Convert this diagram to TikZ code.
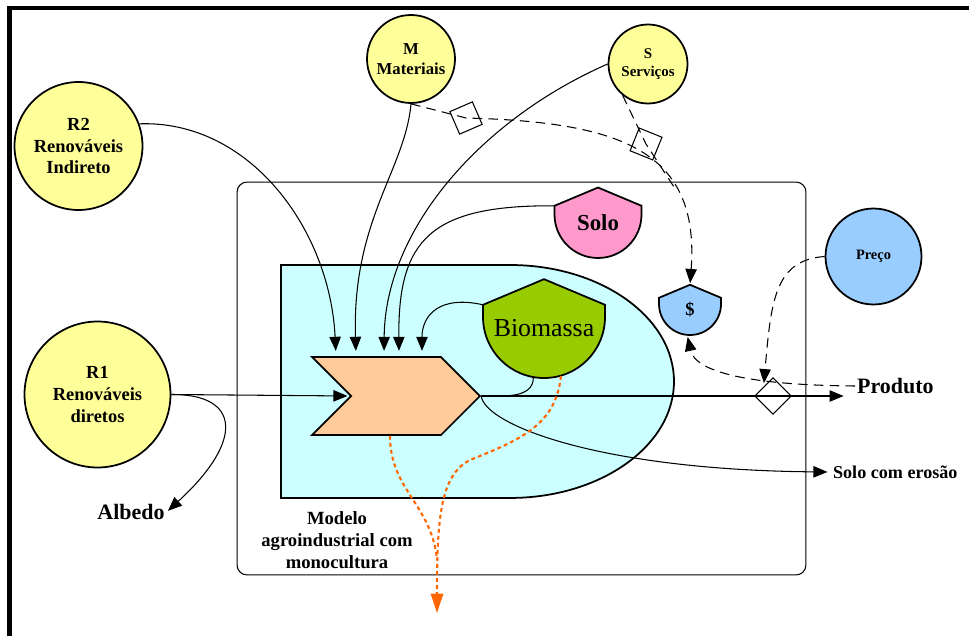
\documentclass[tikz,border=0pt]{standalone}
\usepackage{fontspec}
\setmainfont{Liberation Serif}
\usetikzlibrary{arrows.meta,positioning,shapes.symbols}
\usepackage{xcolor}

\definecolor{fonte}{HTML}{FFFF99}
\definecolor{ciano}{HTML}{CCFFFF}
\definecolor{processo}{HTML}{FFCC99}
\definecolor{verde}{HTML}{99CC00}
\definecolor{rosa}{HTML}{FF99CC}
\definecolor{azul}{HTML}{99CCFF}
\definecolor{laranja}{HTML}{FF6600}

\newcommand{\fsz}[2]{\fontsize{#1}{#2}\selectfont}
% storage tank: name, x, y, radius, colour, text
\newcommand{\storage}[6]{%
  \filldraw[mytank, fill=#5] ({#2-#4},{#3}) -- ({#2-#4},{#3+0.2*#4}) -- ({#2},{#3+0.62*#4})
    -- ({#2+#4},{#3+0.2*#4}) -- ({#2+#4},{#3}) arc[start angle=0, end angle=-180, radius={#4*0.02cm}] -- cycle;
  \node[circle, inner sep=0pt, minimum size={#4*0.04cm}] (#1) at (#2,#3) {};
  \coordinate (#1-l) at ({#2-#4},{#3+0.2*#4});
  \coordinate (#1-top) at ({#2},{#3+0.62*#4});
  \node[inner sep=0pt] (#1-txt) at ({#2},{#3-0.18*#4}) {#6};
}

\begin{document}
\begin{tikzpicture}[x=0.02cm, y=0.02cm]
\tikzset{
    mysource/.style={circle, draw=black, fill=fonte, line width=1pt, inner sep=0pt, align=center},
    mytank/.style={draw=black, line width=1pt},
    myproc/.style={signal, signal to=east, signal from=west, signal pointer angle=90, draw=black, fill=processo, line width=1pt, minimum width=3.36cm, minimum height=1.56cm, inner sep=0pt},
    mytrade/.style={rectangle, draw=black, line width=0.6pt, minimum size=0.49cm, inner sep=0pt},
    myline/.style={line width=0.6pt},
    myarrow/.style={myline, -{Triangle[width=6.5pt,length=8pt]}, shorten >=1pt},
    mydash/.style={myline, dash pattern=on 5.5pt off 3.5pt},
    myorange/.style={draw=laranja, line width=1.2pt, dash pattern=on 2.2pt off 1.8pt},
    mylabel/.style={font=\bfseries\fsz{12.5}{14}, inner sep=1pt}
}
\useasboundingbox (0,0) rectangle (969,-635);
\draw[line width=2.6pt] (9.5,-640) -- (9.5,-8) -- (969,-8);

\node[draw, rounded corners=0.2cm, line width=0.6pt, minimum width=11.38cm, minimum height=7.86cm] (sistema) at (521.5,-378.5) {};
\filldraw[draw=black, fill=ciano, line width=1pt] (281,-265) -- (510,-265)
    arc[start angle=90, end angle=-90, x radius=3.28cm, y radius=2.33cm] -- (281,-498) -- cycle;

\storage{solo}{598}{-214.5}{43.5}{rosa}{\bfseries\fsz{13}{15}Solo}
\storage{bio}{544}{-317}{61}{verde}{\fsz{14.7}{17}Biomassa}
\storage{dinheiro}{690}{-304}{31}{azul}{\bfseries\fsz{10.5}{12}\$}
\node[myproc] (modelo) at (396,-396) {};

\node[mysource, minimum size=2.56cm, font=\bfseries\fsz{10.5}{12.2}] (R2) at (78.5,-146) {R2\\Renováveis\\Indireto};
\node[mysource, minimum size=1.76cm, font=\bfseries\fsz{9.5}{11.3}] (M) at (411,-59) {M\\Materiais};
\node[mysource, minimum size=1.58cm, font=\bfseries\fsz{8.5}{10.2}] (S) at (648,-64) {S\\Serviços};
\node[mysource, minimum size=2.92cm, font=\bfseries\fsz{10.5}{12.5}] (R1) at (97.5,-394.5) {R1\\Renováveis\\diretos};
\node[mysource, fill=azul, minimum size=1.92cm, font=\bfseries\fsz{8.2}{10}] (preco) at (873.5,-256.5) {Preço};

\node[mylabel] (albedo) at (131,-512) {Albedo};
\node[mylabel, anchor=west] (produto) at (855,-386) {Produto};
\node[mylabel, font=\bfseries\fsz{10.3}{12}, anchor=west] (erosao) at (831,-472) {Solo com erosão};
\node[mylabel, font=\bfseries\fsz{10.6}{12.5}, align=center] (nome) at (337,-540) {Modelo\\agroindustrial com\\monocultura};

\node[mytrade, rotate=23.5] (tM) at (466,-118) {};
\node[mytrade, rotate=-22] (tS) at (646,-144) {};
\node[mytrade, rotate=45, minimum size=0.51cm] (tP) at (773,-396) {};

% inputs on top of the process
\draw[myarrow, shorten >=3pt] (R2.20) .. controls (250,-120) and (330,-230) .. ([xshift=-1.2cm]modelo.north);
\draw[myarrow, shorten >=3pt] (M.south) .. controls (405,-170) and (352,-220) .. ([xshift=-0.8cm]modelo.north);
\draw[myarrow, shorten >=3pt] (S.west) .. controls (480,-120) and (385,-230) .. ([xshift=-0.24cm]modelo.north);
\draw[myarrow, shorten >=3pt] (solo-l) .. controls (430,-205) and (398,-240) .. ([xshift=0.06cm]modelo.north);
\draw[myarrow, shorten >=3pt] (bio-l) .. controls (440,-295) and (422,-315) .. ([xshift=0.52cm]modelo.north);
\draw[myarrow, shorten >=2pt] (R1.east) -- ([xshift=-0.9cm]modelo.center);
\draw[myarrow] (R1.east) .. controls (240,-394) and (245,-440) .. (albedo.east);

% outputs
\draw[myarrow, shorten >=6.5pt] (modelo.east) -- (modelo.east -| produto.west);
\draw[myarrow, shorten >=2pt] (modelo.east) .. controls (485,-425) and (600,-470) .. (erosao.west);
\draw[myline] (bio.260) to[out=-90, in=0] (modelo.east);

% money flows
\coordinate (junta) at (676,-190);
\draw[mydash, myarrow] (M.south) -- (tM.center) .. controls (620,-122) and (700,-150) .. (dinheiro-top);
\draw[mydash] (S.231) -- (tS.center) -- (junta);
\draw[mydash, myarrow, shorten >=2pt] (preco.west) .. controls (775,-260) and (771,-300) .. (tP.north);
\draw[mydash, myarrow] (produto.west) .. controls (740,-385) and (695,-370) .. (dinheiro.265);
% the S line stops where it meets the M line, so the dashes do not pile up

% heat sink
\coordinate (saida) at (437,-613);
\coordinate (juntab) at (437,-560);
\draw[myorange, -{Triangle[width=7pt,length=11pt]}] (bio.286) .. controls (556,-425) and (520,-440) .. (470,-460)
    .. controls (440,-475) and (437,-520) .. (saida);
\draw[myorange] ([xshift=-0.12cm]modelo.south) .. controls (390,-490) and (432,-505) .. (juntab);

\end{tikzpicture}
\end{document}
